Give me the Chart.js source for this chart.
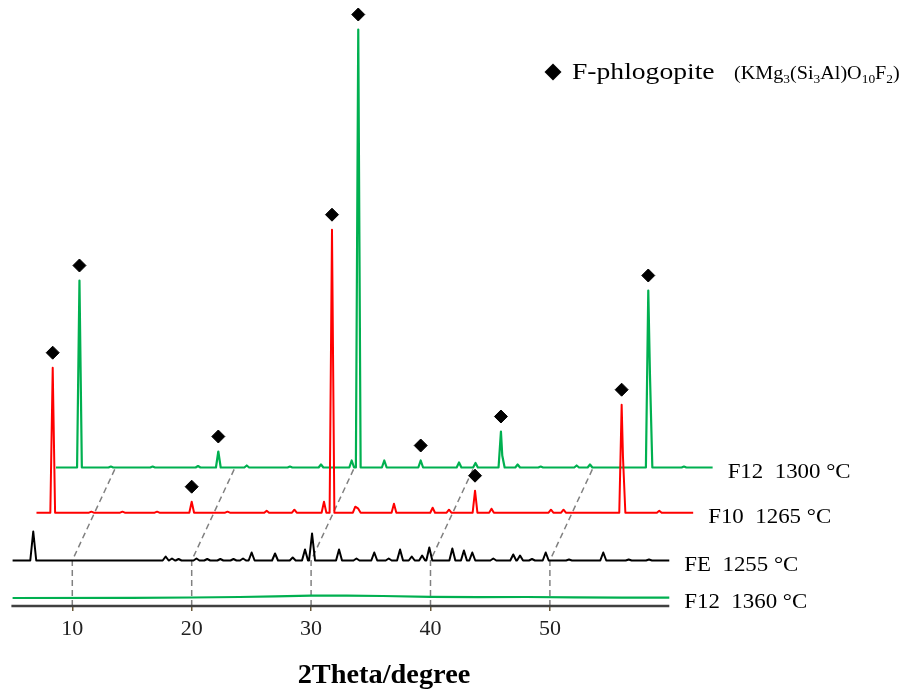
<!DOCTYPE html>
<html lang="en">
<head>
  <meta charset="UTF-8" />
  <title>XRD patterns</title>
  <script src="https://cdn.jsdelivr.net/npm/chart.js"></script>
  <style>
    html, body { margin: 0; padding: 0; background: #fff; }
    .chart-container { position: relative; width: 909px; height: 693px; }
  </style>
</head>
<body>
  <div class="chart-container"><canvas id="xrdChart"></canvas></div>

  <script>
    // scanned 2theta range, same for every sample
    const thetaStart = 5;
    const thetaEnd = 60;

    // peaks: [2theta, intensity above the pattern's own baseline]
    const f12hPeaks = [
      [6.97, 187], [9.6, 1], [13.1, 1], [16.9, 1.5], [18.6, 16], [20.98, 2], [24.6, 1],
      [27.2, 3], [29.77, 7], [30.32, 438], [32.5, 7], [35.55, 7], [38.76, 5], [40.14, 4.5],
      [42.27, 36], [42.38, 12], [43.67, 3], [45.6, 1], [48.61, 2], [49.73, 3],
      [54.61, 177], [54.75, 93], [57.6, 1]
    ];
    const f10Peaks = [
      [6.36, 145], [9.6, 1], [12.2, 1], [15.1, 1], [18.0, 11], [21.0, 1], [24.28, 2],
      [26.6, 3], [29.08, 11], [29.75, 283], [31.7, 6], [31.95, 4], [34.94, 9], [38.18, 5],
      [39.55, 3], [41.73, 22], [43.11, 4], [48.09, 3], [49.14, 3], [54.01, 108],
      [54.12, 56], [57.16, 2]
    ];
    const fePeaks = [
      [6.73, 29], [17.82, 4], [18.35, 2], [18.9, 1.5], [20.4, 2], [21.3, 1.5], [22.4, 1.5],
      [23.5, 1.5], [24.3, 2], [25.02, 8], [26.98, 7], [28.46, 3], [29.49, 11], [30.08, 27],
      [32.34, 11], [33.8, 2], [35.29, 8], [36.5, 2], [37.45, 11], [38.43, 4], [39.3, 5],
      [39.9, 13], [41.83, 12], [42.8, 10], [43.5, 8], [45.26, 2], [46.93, 6], [47.5, 5],
      [48.5, 1.5], [49.65, 8], [51.6, 1], [54.47, 8], [56.6, 1], [58.3, 1]
    ];
    // F12 at 1360 °C is amorphous: only a broad, low hump
    const f12aProfile = [
      [5, 0], [15, 0.2], [20, 0.5], [24, 1], [27, 1.6], [30, 2.4], [33, 2.4], [36, 2],
      [40, 1.2], [44, 0.8], [48, 1], [52, 0.6], [56, 0.3], [60, 0.3]
    ];

    // phlogopite reflections flagged with a diamond
    const f12hMarked = [6.97, 18.6, 30.32, 35.55, 42.27, 54.61];
    const f10Marked = [6.36, 18.0, 29.75, 41.73, 54.01];

    const sampleNames = ['F12  1300 °C', 'F10  1265 °C', 'FE  1255 °C', 'F12  1360 °C'];
    const tickValues = [10, 20, 30, 40, 50];

    // waterfall layout: vertical offset and rightward shift per pattern
    const baseOffsets = [138.5, 93.3, 45.5, 8];
    const thetaShifts = [3.63, 2.0, 0, 0];
    const markerGap = 15;

    function buildTrace(peaks, base, shift, halfWidth) {
      const pts = [{ x: thetaStart + shift, y: base }];
      peaks.forEach(([pos, h], i) => {
        const prev = peaks[i - 1];
        const next = peaks[i + 1];
        if (!prev || pos - prev[0] > 2 * halfWidth) pts.push({ x: pos - halfWidth + shift, y: base });
        pts.push({ x: pos + shift, y: base + h });
        if (!next || next[0] - pos > 2 * halfWidth) pts.push({ x: pos + halfWidth + shift, y: base });
      });
      pts.push({ x: thetaEnd + shift, y: base });
      return pts;
    }

    function markers(peaks, marked, base, shift) {
      return marked.map(pos => {
        const peak = peaks.find(p => p[0] === pos);
        return { x: pos + shift, y: base + peak[1] + markerGap };
      });
    }

    const traceStyle = (color, width) => ({
      borderColor: color,
      borderWidth: width,
      borderJoinStyle: 'round',
      pointRadius: 0,
      tension: 0,
      isTrace: true
    });

    const datasets = [
      {
        data: markers(f12hPeaks, f12hMarked, baseOffsets[0], thetaShifts[0])
          .concat(markers(f10Peaks, f10Marked, baseOffsets[1], thetaShifts[1])),
        showLine: false,
        clip: false,
        pointStyle: 'rectRot',
        pointRadius: 6.5,
        pointBackgroundColor: '#000',
        pointBorderColor: '#000',
        pointBorderWidth: 1
      },
      { label: sampleNames[1], data: buildTrace(f10Peaks, baseOffsets[1], thetaShifts[1], 0.2), ...traceStyle('#ff0000', 2) },
      { label: sampleNames[0], data: buildTrace(f12hPeaks, baseOffsets[0], thetaShifts[0], 0.2), ...traceStyle('#00b050', 2.2) },
      { label: sampleNames[2], data: buildTrace(fePeaks, baseOffsets[2], thetaShifts[2], 0.25), ...traceStyle('#000000', 2) },
      {
        label: sampleNames[3],
        data: f12aProfile.map(([t, v]) => ({ x: t + thetaShifts[3], y: baseOffsets[3] + v })),
        ...traceStyle('#00b050', 2.2)
      }
    ];

    // dashed guides: tick -> FE baseline -> shifted F12 1300 baseline
    tickValues.forEach(t => {
      datasets.push({
        data: [
          { x: t, y: 0 },
          { x: t, y: baseOffsets[2] },
          { x: t + thetaShifts[0], y: baseOffsets[0] }
        ],
        borderColor: '#808080',
        borderWidth: 1.5,
        borderDash: [6, 4],
        pointRadius: 0,
        tension: 0
      });
    });

    const serif = '"Liberation Serif", "Times New Roman", serif';

    // text is set slightly wide, like the rest of the figure's lettering
    function wideText(ctx, txt, x, y, sx) {
      ctx.save();
      ctx.translate(x, y);
      ctx.scale(sx, 1);
      ctx.fillText(txt, 0, 0);
      ctx.restore();
      return ctx.measureText(txt).width * sx;
    }

    const decorations = {
      id: 'decorations',
      afterDatasetsDraw(chart) {
        const { ctx, chartArea, scales: { x } } = chart;
        ctx.save();

        // bottom axis only across the scanned range
        ctx.strokeStyle = '#404040';
        ctx.lineWidth = 2.5;
        ctx.beginPath();
        ctx.moveTo(x.getPixelForValue(4.9), chartArea.bottom);
        ctx.lineTo(x.getPixelForValue(60), chartArea.bottom);
        ctx.stroke();

        // axis title
        ctx.fillStyle = '#000';
        ctx.font = 'bold 27px ' + serif;
        ctx.textAlign = 'center';
        ctx.textBaseline = 'alphabetic';
        wideText(ctx, '2Theta/degree', 384, 683, 1.05);

        // sample names at the end of each pattern
        ctx.textAlign = 'left';
        ctx.font = '21px ' + serif;
        chart.data.datasets.forEach((ds, i) => {
          if (!ds.isTrace) return;
          const pts = chart.getDatasetMeta(i).data;
          const last = pts[pts.length - 1];
          wideText(ctx, ds.label, last.x + 15, last.y + 10, 1.09);
        });

        // legend
        const lx = 553, ly = 72, r = 8.5;
        ctx.beginPath();
        ctx.moveTo(lx - r, ly);
        ctx.lineTo(lx, ly - r);
        ctx.lineTo(lx + r, ly);
        ctx.lineTo(lx, ly + r);
        ctx.closePath();
        ctx.fill();
        ctx.font = '24px ' + serif;
        wideText(ctx, 'F-phlogopite', 572, 79, 1.15);

        const formula = [['(KMg', 0], ['3', 1], ['(Si', 0], ['3', 1], ['Al)O', 0], ['10', 1], ['F', 0], ['2', 1], [')', 0]];
        let fx = 734;
        formula.forEach(([txt, sub]) => {
          ctx.font = (sub ? '12px ' : '18px ') + serif;
          fx += wideText(ctx, txt, fx, sub ? 83 : 79, 1.12);
        });

        ctx.restore();
      }
    };

    const pxPerDegree = 11.94;
    const leftEdge = 11.4;

    new Chart(document.getElementById('xrdChart'), {
      type: 'line',
      data: { datasets },
      options: {
        responsive: true,
        maintainAspectRatio: false,
        animation: false,
        layout: { autoPadding: false, padding: { left: leftEdge, right: 0, top: 0, bottom: 0 } },
        plugins: {
          legend: { display: false },
          tooltip: { enabled: false }
        },
        scales: {
          x: {
            type: 'linear',
            min: 4.9,
            max: 4.9 + (909 - leftEdge) / pxPerDegree,
            afterBuildTicks: scale => { scale.ticks = tickValues.map(v => ({ value: v })); },
            afterFit: scale => { scale.height = 87; },
            border: { display: false },
            grid: { drawOnChartArea: false, drawTicks: true, tickLength: 5, color: '#6b5a3a', lineWidth: 1.5 },
            ticks: {
              padding: 5,
              color: '#222',
              font: { family: serif, size: 22 },
              maxRotation: 0
            }
          },
          y: {
            display: false,
            min: 0,
            max: 606
          }
        }
      },
      plugins: [decorations]
    });
  </script>
</body>
</html>
